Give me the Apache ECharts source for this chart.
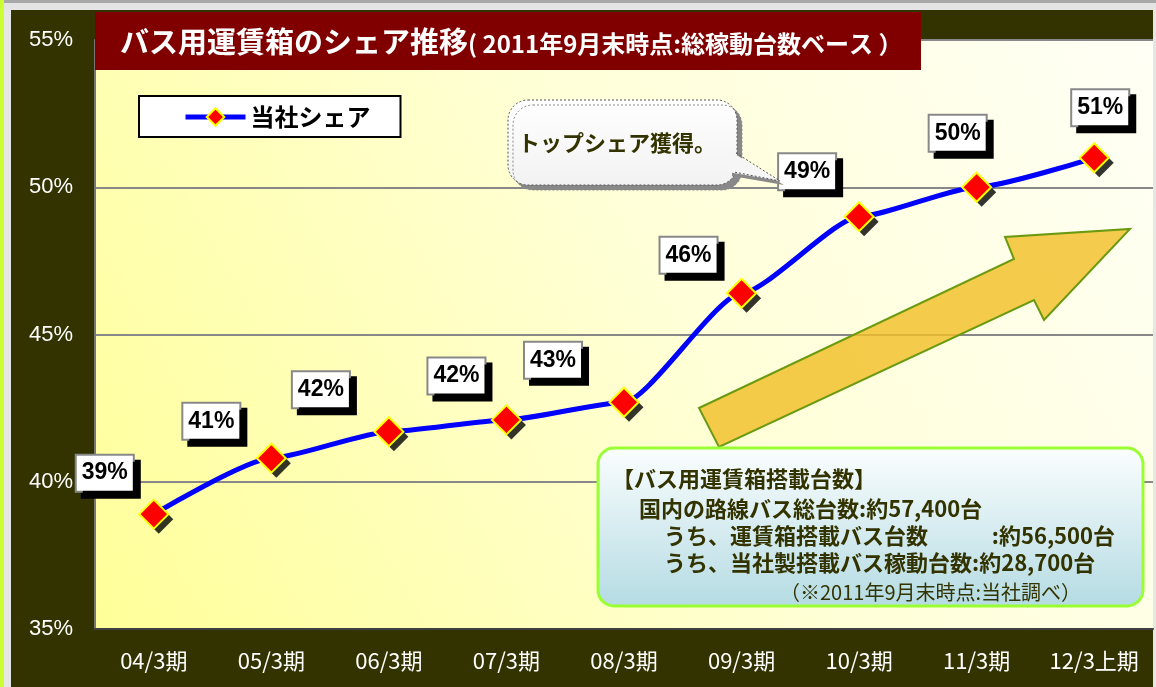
<!doctype html>
<html>
<head>
  <meta charset="UTF-8" />
  <title>バス用運賃箱のシェア推移</title>
  <script src="https://cdn.jsdelivr.net/npm/echarts@6/dist/echarts.min.js"></script>
  <style>
    html, body { margin: 0; padding: 0; background: #333300; }
    #chart { width: 1156px; height: 687px; }
  </style>
</head>
<body>
  <div id="chart"></div>
  <script>
    // data
    const categories = ['04/3期', '05/3期', '06/3期', '07/3期', '08/3期', '09/3期', '10/3期', '11/3期', '12/3上期'];
    const shareValues = [38.9, 40.8, 41.7, 42.1, 42.7, 46.4, 49.0, 50.0, 51.0];
    const seriesName = '当社シェア';
    const yMin = 35, yMax = 55, yStep = 5;

    // where each value box sits relative to its marker
    const labelOffsets = [[-49, -41], [-60, -37], [-68, -42], [-50, -44], [-71, -42], [-53, -38], [-52, -45], [-19, -54], [6, -50]];

    const JP = '"Noto Sans CJK JP", "Noto Sans", sans-serif';
    const olive = '#333300';

    const chart = echarts.init(document.getElementById('chart'), null, { renderer: 'canvas' });

    const seriesData = shareValues.map((v, i) => ({
      value: v,
      label: { offset: labelOffsets[i] }
    }));

    const infoLines = [
      { text: '【バス用運賃箱搭載台数】', x: 612, y: 479 },
      { text: '国内の路線バス総台数:約57,400台', x: 639, y: 509 },
      { text: 'うち、運賃箱搭載バス台数', x: 664, y: 536 },
      { text: ':約56,500台', x: 1115, y: 536, align: 'right' },
      { text: 'うち、当社製搭載バス稼動台数:約28,700台', x: 664, y: 563 }
    ];

    const graphics = [
      // window frame bits
      { type: 'rect', shape: { x: 0, y: 0, width: 1156, height: 10 }, style: { fill: '#e4e4e4' }, z: 0 },
      { type: 'rect', shape: { x: 0, y: 0, width: 1156, height: 3 }, style: { fill: '#a8a8a8' }, z: 0 },
      { type: 'rect', shape: { x: 0, y: 0, width: 4, height: 687 }, style: { fill: '#ccff33' }, z: 0 },
      { type: 'rect', shape: { x: 4, y: 10, width: 7, height: 677 }, style: { fill: '#e6e6e6' }, z: 0 },
      { type: 'rect', shape: { x: 1153, y: 10, width: 3, height: 677 }, style: { fill: '#e6e6e6' }, z: 0 },
      // title banner
      { type: 'rect', shape: { x: 95, y: 12, width: 826, height: 58 }, style: { fill: '#800000' }, z: 10 },
      {
        type: 'text', x: 120, y: 42, z: 11,
        style: {
          text: '{a|バス用運賃箱のシェア推移}{b|( 2011年9月末時点:総稼動台数ベース ）}',
          verticalAlign: 'middle',
          rich: {
            a: { fontSize: 29, fontWeight: 'bold', fill: '#fff', fontFamily: JP },
            b: { fontSize: 24, fontWeight: 'bold', fill: '#fff', fontFamily: JP, padding: [4, 0, 0, 0] }
          }
        }
      },
      // big up arrow
      {
        type: 'polygon', z: 1,
        shape: { points: [[699, 408], [1014, 259], [1005, 237], [1130, 229], [1044, 320], [1034, 300], [719, 447]] },
        style: { fill: 'rgba(242,192,40,0.82)', stroke: '#6b9a10', lineWidth: 2 }
      },
      // speech bubble
      {
        type: 'rect', z: 6,
        shape: { x: 508, y: 100, width: 229, height: 85, r: 20 },
        style: {
          fill: new echarts.graphic.LinearGradient(0, 0, 0, 1, [{ offset: 0, color: '#ffffff' }, { offset: 1, color: '#f2f2f2' }]),
          stroke: '#555', lineWidth: 1, lineDash: [2, 2],
          shadowColor: '#888', shadowOffsetX: 5, shadowOffsetY: 5, shadowBlur: 0
        }
      },
      {
        type: 'polygon', z: 6,
        shape: { points: [[728, 150], [780, 181], [728, 172]] },
        style: { fill: '#f6f6f6', shadowColor: '#888', shadowOffsetX: 4, shadowOffsetY: 4, shadowBlur: 0 }
      },
      {
        type: 'polyline', z: 7,
        shape: { points: [[736, 153], [780, 181], [734, 172]] },
        style: { stroke: '#555', lineWidth: 1, lineDash: [2, 2], fill: null }
      },
      {
        type: 'text', x: 518, y: 143, z: 8,
        style: { text: 'トップシェア獲得。', font: 'bold 22px ' + JP, fill: olive, verticalAlign: 'middle' }
      },
      // info box
      {
        type: 'rect', z: 6,
        shape: { x: 598, y: 448, width: 545, height: 158, r: 16 },
        style: {
          fill: new echarts.graphic.LinearGradient(0, 0, 0, 1, [{ offset: 0, color: '#fbfefe' }, { offset: 1, color: '#b4dbe3' }]),
          stroke: '#99ff33', lineWidth: 3
        }
      },
      {
        type: 'text', x: 780, y: 592, z: 8,
        style: { text: '（※2011年9月末時点:当社調べ）', font: '20px ' + JP, fill: olive, verticalAlign: 'middle' }
      }
    ];
    infoLines.forEach(l => {
      graphics.push({
        type: 'text', x: l.x, y: l.y, z: 8,
        style: { text: l.text, font: 'bold 22px ' + JP, fill: olive, verticalAlign: 'middle', align: l.align || 'left' }
      });
    });

    const option = {
      backgroundColor: '#333300',
      animation: false,
      grid: {
        left: 95, right: 3, top: 40, bottom: 58,
        show: true,
        borderWidth: 0,
        backgroundColor: new echarts.graphic.LinearGradient(0, 1, 1, 0, [
          { offset: 0, color: '#ffff99' },
          { offset: 0.55, color: '#ffffd8' },
          { offset: 1, color: '#fffff6' }
        ])
      },
      legend: {
        left: 139, top: 96,
        data: [seriesName],
        backgroundColor: '#fff',
        borderColor: '#000', borderWidth: 2,
        padding: [9, 30, 8, 44],
        itemWidth: 60, itemHeight: 22,
        lineStyle: { width: 5 },
        textStyle: { fontSize: 24, fontWeight: 'bold', color: '#000', fontFamily: JP }
      },
      xAxis: {
        type: 'category',
        data: categories,
        axisLine: { lineStyle: { color: '#404040', width: 2 } },
        axisTick: { inside: true, length: 6, lineStyle: { color: '#404040', width: 2 } },
        axisLabel: { color: '#fff', fontSize: 22, fontFamily: JP, margin: 21 }
      },
      yAxis: {
        type: 'value',
        min: yMin, max: yMax, interval: yStep,
        axisLine: { show: true, lineStyle: { color: '#777', width: 2 } },
        axisTick: { show: false },
        splitLine: { lineStyle: { color: '#888', width: 2 } },
        axisLabel: {
          color: '#fff', fontSize: 22, fontFamily: '"Liberation Sans", Arial, sans-serif',
          margin: 22,
          formatter: '{value}%'
        }
      },
      series: [{
        // drop shadow under each marker
        name: 'shadow',
        type: 'scatter',
        data: shareValues,
        z: 2,
        symbol: 'diamond',
        symbolSize: 29,
        symbolOffset: [5, 5],
        itemStyle: { color: '#000' },
        silent: true,
        emphasis: { disabled: true }
      }, {
        name: seriesName,
        type: 'line',
        data: seriesData,
        smooth: 0.2,
        smoothMonotone: 'x',
        z: 3,
        symbol: 'diamond',
        symbolSize: 29,
        lineStyle: { color: '#0000ff', width: 5 },
        itemStyle: { color: '#ff0000', borderColor: '#ffff00', borderWidth: 2 },
        label: {
          show: true,
          position: 'inside',
          formatter: p => Math.round(p.value) + '%',
          color: '#000',
          fontSize: 23,
          fontWeight: 'bold',
          fontFamily: '"Liberation Sans", Arial, sans-serif',
          backgroundColor: '#fff',
          borderColor: '#888', borderWidth: 2,
          padding: [7, 5, 5, 5],
          shadowColor: '#000', shadowOffsetX: 6, shadowOffsetY: 6, shadowBlur: 0
        },
        emphasis: { disabled: true }
      }],
      graphic: graphics
    };

    chart.setOption(option);
  </script>
</body>
</html>
